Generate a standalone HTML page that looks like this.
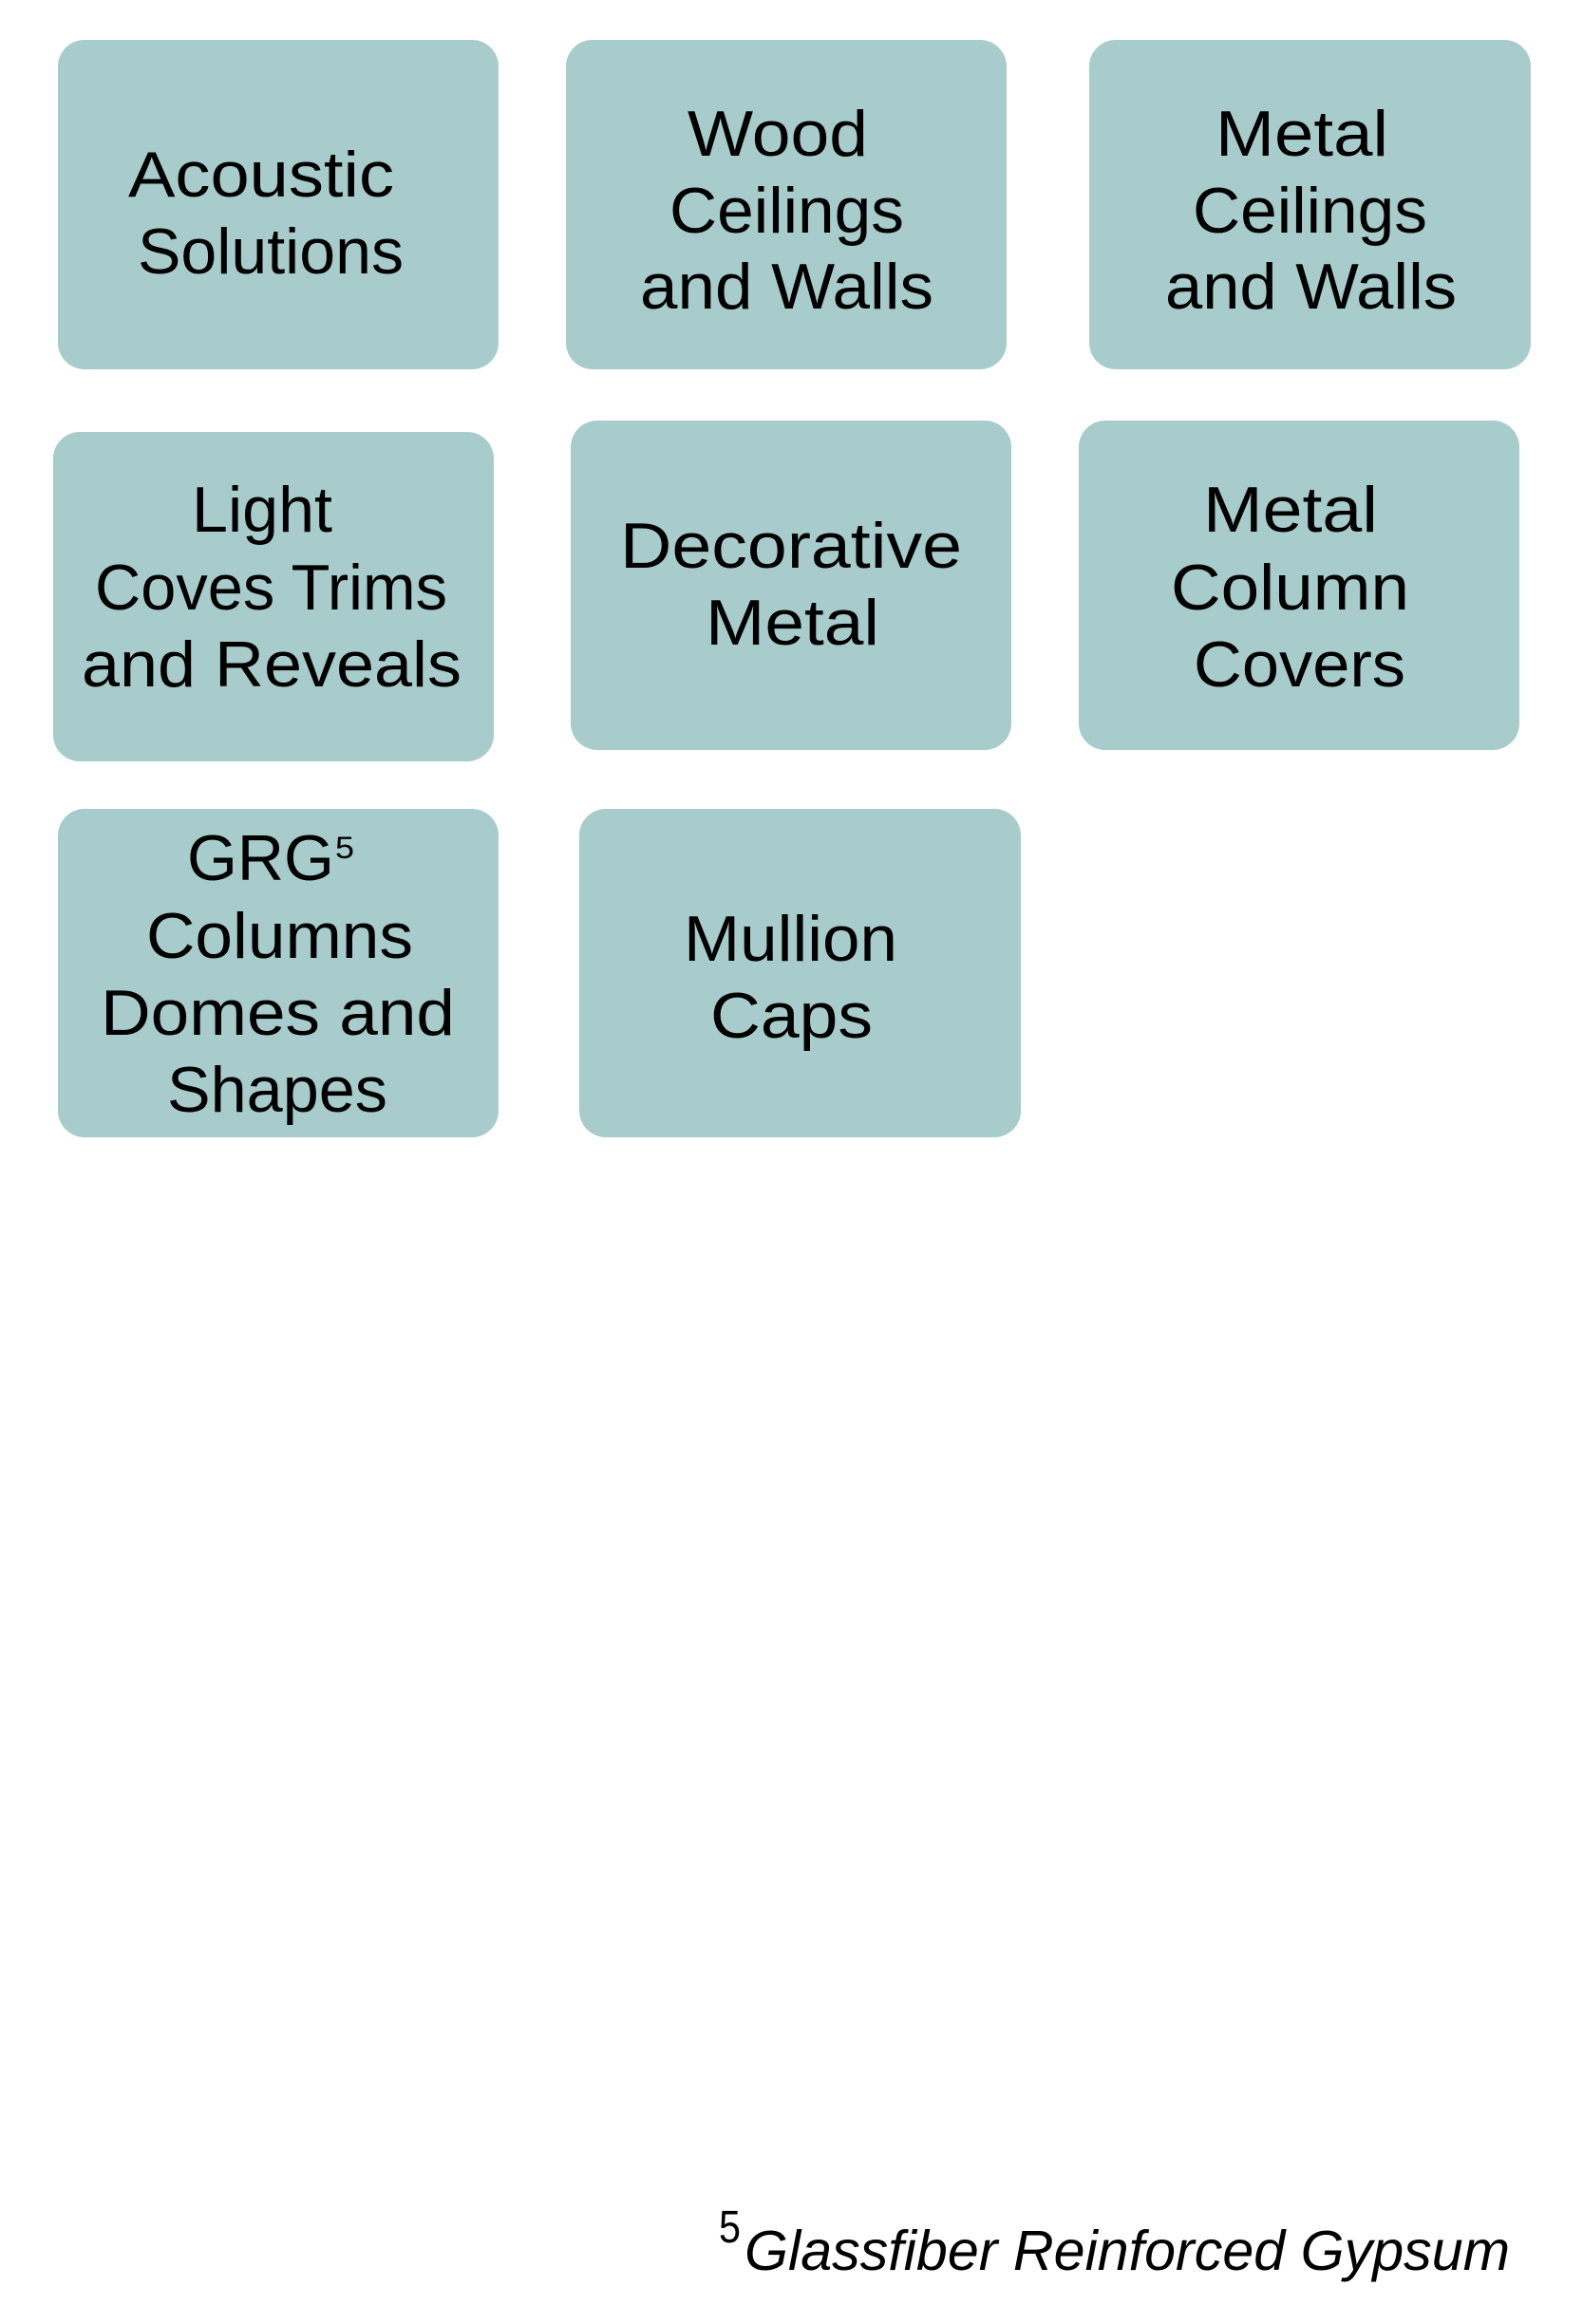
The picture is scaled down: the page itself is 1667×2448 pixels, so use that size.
<!DOCTYPE html>
<html>
<head>
<meta charset="utf-8">
<style>
  html, body { margin: 0; padding: 0; background: #ffffff; }
  body { width: 1667px; height: 2448px; overflow: hidden; }
  svg { display: block; }
  .lbl { font-family: "Liberation Sans", "DejaVu Sans", sans-serif; font-size: 68px; fill: #000; }
  .foot { font-family: "Liberation Sans", sans-serif; font-style: italic; font-size: 59px; fill: #000; }
</style>
</head>
<body>
<svg width="1667" height="2448" viewBox="0 0 1667 2448" xmlns="http://www.w3.org/2000/svg">
  <rect x="0" y="0" width="1667" height="2448" fill="#ffffff"/>
  <g fill="#a8cbcb">
    <!-- Row 1 -->
    <rect x="61" y="42" width="464" height="347" rx="28" ry="28"/>
    <rect x="596" y="42" width="464" height="347" rx="28" ry="28"/>
    <rect x="1147" y="42" width="465" height="347" rx="28" ry="28"/>
    <!-- Row 2 -->
    <rect x="56" y="455" width="464" height="347" rx="28" ry="28"/>
    <rect x="601" y="443" width="464" height="347" rx="28" ry="28"/>
    <rect x="1136" y="443" width="464" height="347" rx="28" ry="28"/>
    <!-- Row 3 -->
    <rect x="61" y="852" width="464" height="346" rx="28" ry="28"/>
    <rect x="610" y="852" width="465" height="346" rx="28" ry="28"/>
  </g>

  <g class="lbl">
    <!-- Acoustic Solutions -->
    <text x="135" y="207" textLength="280" lengthAdjust="spacingAndGlyphs">Acoustic</text>
    <text x="145" y="288" textLength="280" lengthAdjust="spacingAndGlyphs">Solutions</text>

    <!-- Wood Ceilings and Walls -->
    <text x="724" y="164" textLength="190" lengthAdjust="spacingAndGlyphs">Wood</text>
    <text x="705" y="245" textLength="247" lengthAdjust="spacingAndGlyphs">Ceilings</text>
    <text x="674" y="325" textLength="309" lengthAdjust="spacingAndGlyphs">and Walls</text>

    <!-- Metal Ceilings and Walls -->
    <text x="1280" y="164" textLength="182" lengthAdjust="spacingAndGlyphs">Metal</text>
    <text x="1256" y="245" textLength="247" lengthAdjust="spacingAndGlyphs">Ceilings</text>
    <text x="1227" y="325" textLength="307" lengthAdjust="spacingAndGlyphs">and Walls</text>

    <!-- Light Coves Trims and Reveals -->
    <text x="202" y="560" textLength="148" lengthAdjust="spacingAndGlyphs">Light</text>
    <text x="100" y="642" textLength="371" lengthAdjust="spacingAndGlyphs">Coves Trims</text>
    <text x="86" y="723" textLength="400" lengthAdjust="spacingAndGlyphs">and Reveals</text>

    <!-- Decorative Metal -->
    <text x="653" y="598" textLength="360" lengthAdjust="spacingAndGlyphs">Decorative</text>
    <text x="743" y="679" textLength="183" lengthAdjust="spacingAndGlyphs">Metal</text>

    <!-- Metal Column Covers -->
    <text x="1267" y="560" textLength="184" lengthAdjust="spacingAndGlyphs">Metal</text>
    <text x="1233" y="642" textLength="251" lengthAdjust="spacingAndGlyphs">Column</text>
    <text x="1257" y="723" textLength="223" lengthAdjust="spacingAndGlyphs">Covers</text>

    <!-- GRG Columns Domes and Shapes -->
    <text x="197" y="927" textLength="155" lengthAdjust="spacingAndGlyphs">GRG</text>
    <text x="353" y="904" style="font-size:32px" textLength="20" lengthAdjust="spacingAndGlyphs">5</text>
    <text x="154" y="1009" textLength="281" lengthAdjust="spacingAndGlyphs">Columns</text>
    <text x="106" y="1090" textLength="373" lengthAdjust="spacingAndGlyphs">Domes and</text>
    <text x="176" y="1171" textLength="232" lengthAdjust="spacingAndGlyphs">Shapes</text>

    <!-- Mullion Caps -->
    <text x="720" y="1012" textLength="225" lengthAdjust="spacingAndGlyphs">Mullion</text>
    <text x="748" y="1093" textLength="171" lengthAdjust="spacingAndGlyphs">Caps</text>
  </g>

  <!-- Footnote -->
  <text x="757" y="2362" style="font-family:'Liberation Sans', sans-serif; font-size:48px; fill:#000" textLength="23" lengthAdjust="spacingAndGlyphs">5</text>
  <text class="foot" x="784" y="2391" textLength="806" lengthAdjust="spacingAndGlyphs">Glassfiber Reinforced Gypsum</text>
</svg>
</body>
</html>
